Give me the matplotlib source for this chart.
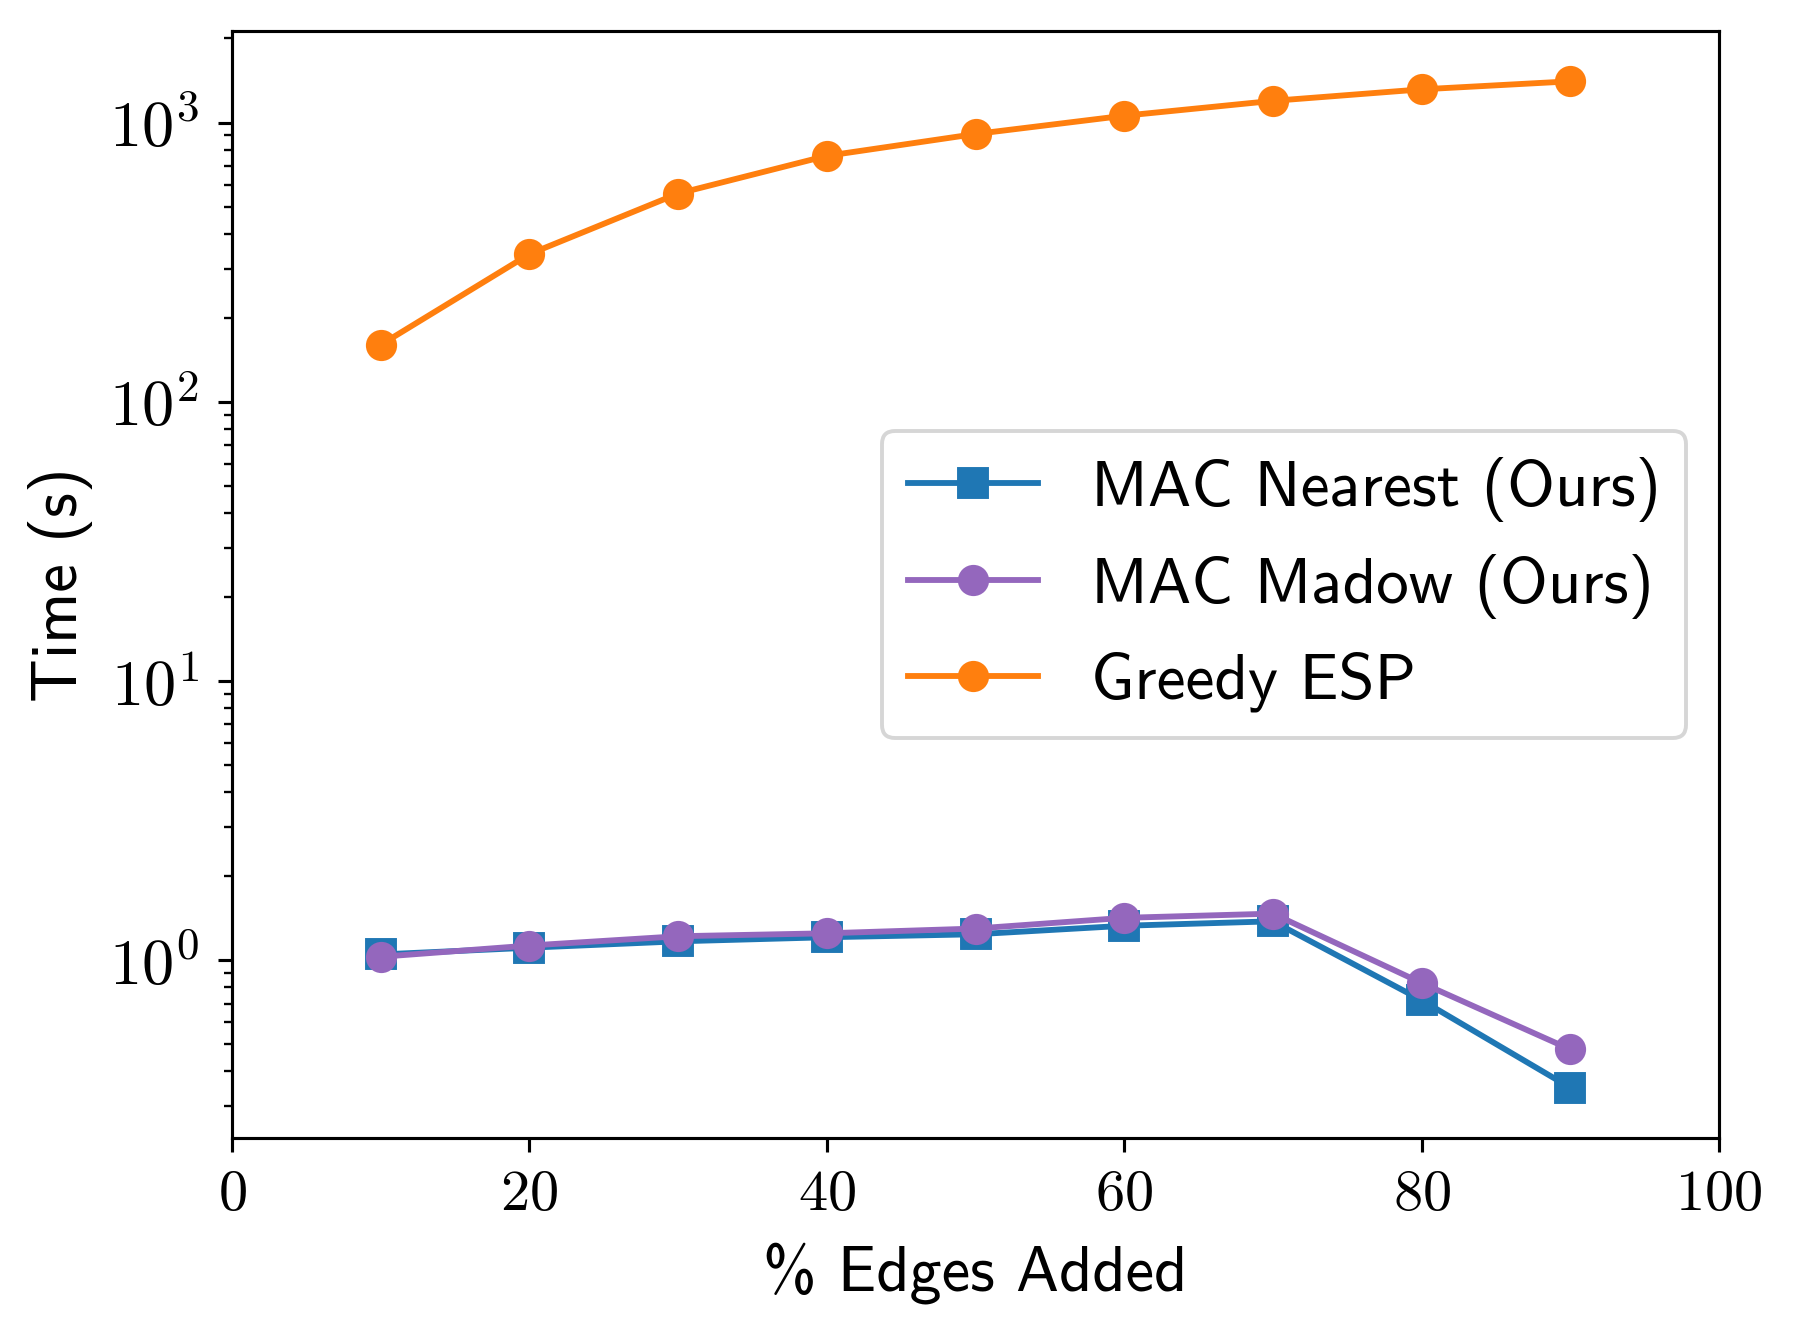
import math
import matplotlib
matplotlib.use("Agg")
import matplotlib.pyplot as plt
from matplotlib.ticker import FuncFormatter, LogLocator

plt.rcParams['mathtext.fontset'] = 'cm'
plt.rcParams['axes.unicode_minus'] = False

pct_edges = [10, 20, 30, 40, 50, 60, 70, 80, 90]
mac_nearest = [1.05, 1.11, 1.17, 1.21, 1.24, 1.33, 1.38, 0.72, 0.35]
mac_madow = [1.03, 1.13, 1.22, 1.25, 1.30, 1.42, 1.47, 0.83, 0.48]
greedy_esp = [160, 338, 557, 760, 910, 1058, 1196, 1315, 1405]

series_labels = ["MAC Nearest (Ours)", "MAC Madow (Ours)", "Greedy ESP"]
x_ticks = [0, 20, 40, 60, 80, 100]

fig = plt.figure(figsize=(6.4, 1336 / 1797 * 6.4), dpi=1797 / 6.4)
ax = fig.add_axes([0.1291, 0.1482, 0.9566 - 0.1291, 0.9768 - 0.1482])

ax.plot(pct_edges, mac_nearest, marker='s', color='#1f77b4', lw=1.5, ms=7, label=series_labels[0])
ax.plot(pct_edges, mac_madow, marker='o', color='#9467bd', lw=1.5, ms=7, label=series_labels[1])
ax.plot(pct_edges, greedy_esp, marker='o', color='#ff7f0e', lw=1.5, ms=7, label=series_labels[2])

ax.set_yscale('log')
ax.yaxis.set_major_locator(LogLocator(base=10))
ax.yaxis.set_major_formatter(FuncFormatter(lambda v, p: r'$10^{%d}$' % round(math.log10(v))))
ax.set_xlim(0, 100)
ax.set_xticks(x_ticks)
ax.xaxis.set_major_formatter(FuncFormatter(lambda v, p: r'$%d$' % v))

label_fs = 16.5
ax.tick_params(axis='x', labelsize=15)
ax.tick_params(axis='y', labelsize=16.5, pad=5)
ax.set_xlabel('% Edges Added', family='cmss10', fontsize=label_fs, labelpad=5)
ax.set_ylabel('Time (s)', family='cmss10', fontsize=label_fs)

leg = ax.legend(loc='center right', prop={'family': 'cmss10', 'size': 16.7})

fig.savefig('out.png', dpi=1797 / 6.4)
